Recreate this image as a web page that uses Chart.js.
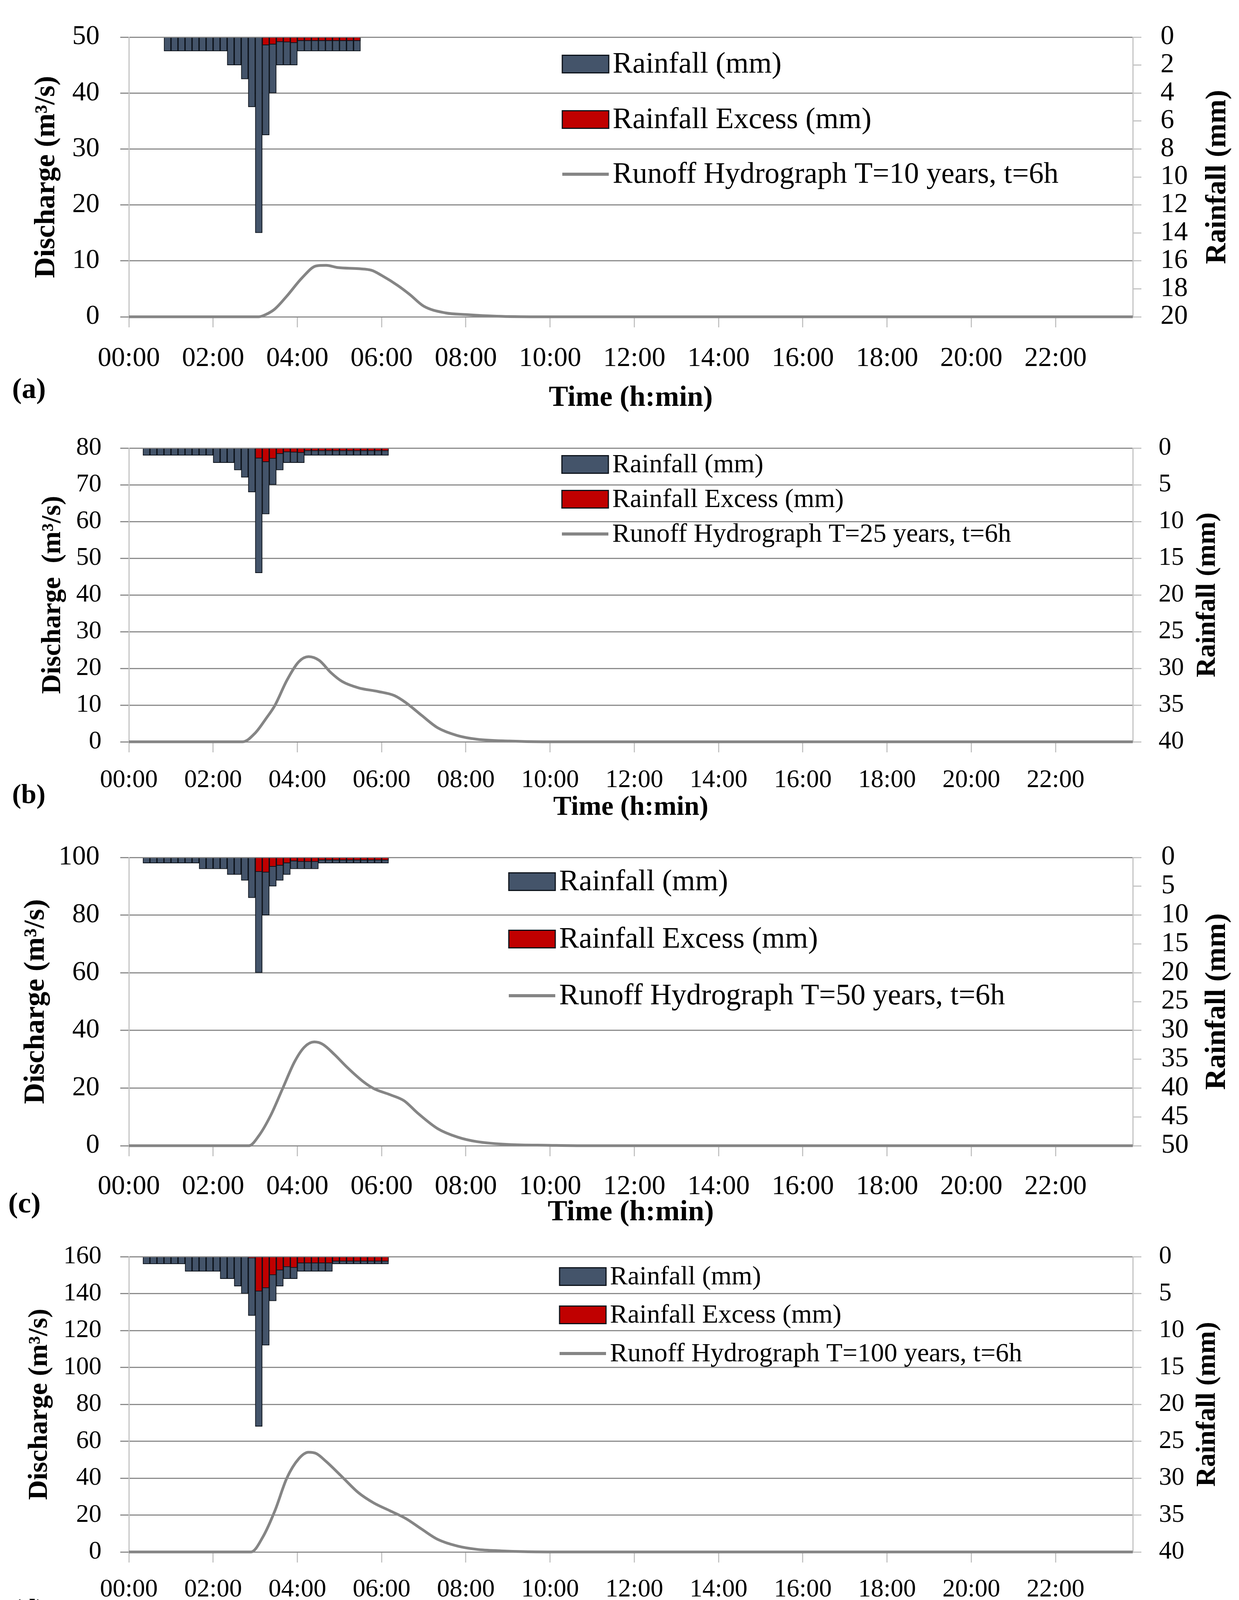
<!DOCTYPE html>
<html>
<head>
<meta charset="utf-8">
<script src="https://cdn.jsdelivr.net/npm/chart.js@4.4.1/dist/chart.umd.min.js"></script>
<style>
    html, body { margin: 0; padding: 0; background: #fff; }
    #page { position: relative; width: 3173px; height: 4213px; background: #fff; }
    #page canvas { position: absolute; left: 0; }
</style>
</head>
<body>
<div id="page">
    <canvas id="chartA" width="3173" height="1068" style="top:0px"></canvas>
    <canvas id="chartB" width="3173" height="1054" style="top:1060px"></canvas>
    <canvas id="chartC" width="3173" height="1054" style="top:2100px"></canvas>
    <canvas id="chartD" width="3173" height="1054" style="top:3130px"></canvas>
</div>
<script>
// --- data ---
const X_TICK_LABELS = [
    "00:00", "02:00", "04:00", "06:00", "08:00", "10:00",
    "12:00", "14:00", "16:00", "18:00", "20:00", "22:00",
];
const X_END = "23:50";

// 10-min rainfall blocks, labelled by end of interval
const RAIN_END_A = [
    "01:00", "01:10", "01:20", "01:30", "01:40", "01:50",
    "02:00", "02:10", "02:20", "02:30", "02:40", "02:50",
    "03:00", "03:10", "03:20", "03:30", "03:40", "03:50",
    "04:00", "04:10", "04:20", "04:30", "04:40", "04:50",
    "05:00", "05:10", "05:20", "05:30",
];
const RAIN_END_BCD = [
    "00:30", "00:40", "00:50",
    "01:00", "01:10", "01:20", "01:30", "01:40", "01:50",
    "02:00", "02:10", "02:20", "02:30", "02:40", "02:50",
    "03:00", "03:10", "03:20", "03:30", "03:40", "03:50",
    "04:00", "04:10", "04:20", "04:30", "04:40", "04:50",
    "05:00", "05:10", "05:20", "05:30", "05:40", "05:50",
    "06:00", "06:10",
];

// (a) T=10 years
const RAIN_A = [1, 1, 1, 1, 1, 1, 1, 1, 1, 2, 2, 3, 5, 14, 7, 4, 2, 2, 2, 1, 1, 1, 1, 1, 1, 1, 1, 1];
const EXCESS_A = [0, 0, 0, 0, 0, 0, 0, 0, 0, 0, 0, 0, 0, 0, 0.58, 0.52, 0.35, 0.37, 0.42, 0.27, 0.27, 0.27, 0.27, 0.27, 0.27, 0.27, 0.27, 0.27];
const FLOW_TIME_A = ["00:00", "03:05", "03:15", "03:28", "03:45", "04:07", "04:27", "04:41", "04:58", "05:27", "05:46", "06:00", "06:23", "06:40", "07:00", "07:31", "08:00", "08:44", "09:40", "23:50"];
const FLOW_A = [0, 0, 0.4, 1.4, 3.7, 7.0, 9.1, 9.2, 8.8, 8.6, 8.3, 7.4, 5.6, 4.0, 1.9, 0.7, 0.4, 0.1, 0, 0];

// (b) T=25 years
const RAIN_B = [1, 1, 1, 1, 1, 1, 1, 1, 1, 1, 2, 2, 2, 3, 4, 6, 17, 9, 5, 3, 2, 2, 2, 1, 1, 1, 1, 1, 1, 1, 1, 1, 1, 1, 1];
const EXCESS_B = [0, 0, 0, 0, 0, 0, 0, 0, 0, 0, 0, 0, 0, 0, 0, 0, 1.4, 1.9, 1.45, 0.8, 0.55, 0.6, 0.65, 0.4, 0.4, 0.4, 0.4, 0.4, 0.4, 0.4, 0.4, 0.4, 0.4, 0.4, 0.4];
const FLOW_TIME_B = ["00:00", "02:42", "03:00", "03:16", "03:28", "03:45", "04:02", "04:16", "04:31", "04:48", "05:04", "05:27", "05:55", "06:18", "06:35", "06:57", "07:20", "07:48", "08:16", "09:02", "09:50", "23:50"];
const FLOW_B = [0, 0, 2.4, 6.5, 9.9, 16.7, 21.8, 23.2, 22.2, 18.8, 16.4, 14.7, 13.7, 12.6, 10.6, 7.2, 3.8, 1.7, 0.7, 0.2, 0, 0];

// (c) T=50 years
const RAIN_C = [1, 1, 1, 1, 1, 1, 1, 1, 2, 2, 2, 2, 3, 3, 4, 7, 20, 10, 5, 4, 3, 2, 2, 2, 2, 1, 1, 1, 1, 1, 1, 1, 1, 1, 1];
const EXCESS_C = [0, 0, 0, 0, 0, 0, 0, 0, 0, 0, 0, 0, 0, 0, 0, 0, 2.5, 2.6, 1.6, 1.4, 1.0, 0.65, 0.75, 0.75, 0.75, 0.5, 0.5, 0.5, 0.5, 0.5, 0.5, 0.5, 0.5, 0.5, 0.5];
const FLOW_TIME_C = ["00:00", "02:51", "03:05", "03:22", "03:39", "03:56", "04:10", "04:24", "04:36", "04:53", "05:10", "05:33", "05:49", "06:12", "06:32", "06:51", "07:20", "07:48", "08:16", "09:02", "09:58", "10:50", "23:50"];
const FLOW_C = [0, 0, 3.4, 10.5, 19.8, 29.1, 34.2, 36.0, 35.2, 31.6, 27.4, 22.4, 19.8, 17.7, 15.6, 11.4, 5.9, 3.0, 1.4, 0.4, 0.15, 0, 0];

// (d) T=100 years
const RAIN_D = [1, 1, 1, 1, 1, 1, 2, 2, 2, 2, 2, 3, 3, 4, 5, 8, 23, 12, 6, 4, 3, 3, 2, 2, 2, 2, 2, 1, 1, 1, 1, 1, 1, 1, 1];
const EXCESS_D = [0, 0, 0, 0, 0, 0, 0, 0, 0, 0, 0, 0, 0, 0, 0, 0.2, 4.7, 4.25, 2.5, 1.85, 1.4, 1.5, 0.9, 0.9, 0.9, 0.9, 0.9, 0.65, 0.65, 0.65, 0.65, 0.65, 0.65, 0.65, 0.65];
const FLOW_TIME_D = ["00:00", "02:54", "03:11", "03:28", "03:45", "04:02", "04:16", "04:27", "04:41", "05:04", "05:27", "05:49", "06:12", "06:35", "06:57", "07:20", "07:48", "08:16", "08:50", "09:24", "10:10", "23:50"];
const FLOW_D = [0, 0, 8.2, 22.3, 40, 50.5, 54, 53.3, 49, 40.6, 32.1, 26.5, 22.3, 18, 12.4, 6.8, 3.2, 1.4, 0.6, 0.15, 0, 0];

// --- styling ---
const SERIF = "Liberation Serif";
const RAIN_FILL = "#44546a";
const EXCESS_FILL = "#c00000";
const BAR_EDGE = "#0c121a";
const FLOW_LINE = "#858585";
const GRID_GREY = "#8c8c8c";
const AXIS_GREY = "#c4c4c4";
const PAGE_W = 3173;
const PLOT_LEFT = 330;
const PLOT_RIGHT = 2901;
const LEG_BOX_W = 119;
const LEG_BOX_H = 45;

const toMin = (s) => {
    const [h, m] = s.split(":").map(Number);
    return h * 60 + m;
};
const X_TICK_VALUES = X_TICK_LABELS.map(toMin);

// panel layout (page pixels)
const PANELS = [
    {
        id: "chartA", tag: "(a)", top: 0, height: 1068, plotTop: 82, plotBottom: 811,
        qMax: 50, qStep: 10, rMax: 20, rStep: 2, period: "T=10 years",
        tick: 70, title: 74, legendFont: 76, yTitle: "Discharge (m³/s)",
        yTitleX: 120, rTitleX: 3119, lPad: 53, rPad: 49, xPad: 39,
        legX: 1440, legRows: [164, 306, 446], tagX: 31, tagY: 1000,
        rainEnd: RAIN_END_A, rain: RAIN_A, excess: EXCESS_A, flowTime: FLOW_TIME_A, flow: FLOW_A,
    },
    {
        id: "chartB", tag: "(b)", top: 1060, height: 1054, plotTop: 1122, plotBottom: 1899,
        qMax: 80, qStep: 10, rMax: 40, rStep: 5, period: "T=25 years",
        tick: 65, title: 70, legendFont: 68, yTitle: "Discharge  (m³/s)",
        yTitleX: 136, rTitleX: 3093, lPad: 48, rPad: 44, xPad: 33,
        legX: 1439, legRows: [1189, 1278, 1367], tagX: 31, tagY: 2038,
        rainEnd: RAIN_END_BCD, rain: RAIN_B, excess: EXCESS_B, flowTime: FLOW_TIME_B, flow: FLOW_B,
    },
    {
        id: "chartC", tag: "(c)", top: 2100, height: 1054, plotTop: 2171, plotBottom: 2933,
        qMax: 100, qStep: 20, rMax: 50, rStep: 5, period: "T=50 years",
        tick: 70, title: 75, legendFont: 76, yTitle: "Discharge (m³/s)",
        yTitleX: 93, rTitleX: 3118, lPad: 53, rPad: 51, xPad: 37,
        legX: 1303, legRows: [2257, 2404, 2549], tagX: 21, tagY: 3085,
        rainEnd: RAIN_END_BCD, rain: RAIN_C, excess: EXCESS_C, flowTime: FLOW_TIME_C, flow: FLOW_C,
    },
    {
        id: "chartD", tag: "(d)", top: 3130, height: 1054, plotTop: 3196, plotBottom: 3973,
        qMax: 160, qStep: 20, rMax: 40, rStep: 5, period: "T=100 years",
        tick: 65, title: 70, legendFont: 68, yTitle: "Discharge (m³/s)",
        yTitleX: 102, rTitleX: 3093, lPad: 48, rPad: 45, xPad: 31,
        legX: 1433, legRows: [3268, 3366, 3465], tagX: 31, tagY: 4124,
        rainEnd: RAIN_END_BCD, rain: RAIN_D, excess: EXCESS_D, flowTime: FLOW_TIME_D, flow: FLOW_D,
    },
];

// legend, right-hand title (reads bottom to top) and panel letter
function makeOverlay(p) {
    return {
        id: "overlay",
        afterDraw(chart) {
            const ctx = chart.ctx;
            const area = chart.chartArea;
            const rel = (y) => y - p.top;
            ctx.save();
            ctx.font = `${p.legendFont}px "${SERIF}"`;
            ctx.textAlign = "left";
            ctx.textBaseline = "middle";
            chart.data.datasets.forEach((ds, i) => {
                const cy = rel(p.legRows[i]);
                if (ds.type === "line") {
                    ctx.strokeStyle = ds.borderColor;
                    ctx.lineWidth = 8;
                    ctx.beginPath();
                    ctx.moveTo(p.legX, cy);
                    ctx.lineTo(p.legX + LEG_BOX_W, cy);
                    ctx.stroke();
                } else {
                    ctx.fillStyle = ds.backgroundColor;
                    ctx.fillRect(p.legX, cy - LEG_BOX_H / 2, LEG_BOX_W, LEG_BOX_H);
                    ctx.strokeStyle = BAR_EDGE;
                    ctx.lineWidth = 3;
                    ctx.strokeRect(p.legX, cy - LEG_BOX_H / 2, LEG_BOX_W, LEG_BOX_H);
                }
                ctx.fillStyle = "#000";
                ctx.fillText(ds.label, p.legX + LEG_BOX_W + 10, cy + 2);
            });

            ctx.font = `bold ${p.title}px "${SERIF}"`;
            ctx.textAlign = "left";
            ctx.fillText(p.tag, p.tagX, rel(p.tagY));

            ctx.textAlign = "center";
            ctx.translate(p.rTitleX, (area.top + area.bottom) / 2);
            ctx.rotate(-Math.PI / 2);
            ctx.fillText("Rainfall (mm)", 0, 0);
            ctx.restore();
        },
    };
}

function buildChart(p) {
    const rel = (y) => y - p.top;
    const xAxisH = p.height - rel(p.plotBottom);
    const tickFont = { family: SERIF, size: p.tick };
    const titleFont = { family: SERIF, size: p.title, weight: "bold" };
    const lh = p.title * 1.2;

    const rain = p.rainEnd.map((t, i) => ({ x: toMin(t) - 5, y: p.rain[i] }));
    const excess = p.rainEnd.map((t, i) => ({ x: toMin(t) - 5, y: p.excess[i] }));
    const flow = p.flowTime.map((t, i) => ({ x: toMin(t), y: p.flow[i] }));

    const barStyle = {
        type: "bar",
        yAxisID: "y2",
        borderColor: BAR_EDGE,
        borderWidth: 2,
        grouped: false,
        barPercentage: 1,
        categoryPercentage: 1,
    };

    return new Chart(document.getElementById(p.id), {
        type: "bar",
        data: {
            datasets: [
                { ...barStyle, label: "Rainfall (mm)", data: rain, backgroundColor: RAIN_FILL, order: 3 },
                { ...barStyle, label: "Rainfall Excess (mm)", data: excess, backgroundColor: EXCESS_FILL, order: 2 },
                {
                    type: "line",
                    label: "Runoff Hydrograph " + p.period + ", t=6h",
                    data: flow,
                    yAxisID: "y",
                    borderColor: FLOW_LINE,
                    borderWidth: 7,
                    pointRadius: 0,
                    cubicInterpolationMode: "monotone",
                    clip: 10,
                    order: 1,
                },
            ],
        },
        options: {
            responsive: false,
            animation: false,
            devicePixelRatio: 1,
            layout: { padding: { top: rel(p.plotTop), left: 0, right: 0, bottom: 0 } },
            plugins: {
                legend: { display: false },
                tooltip: { enabled: false },
            },
            scales: {
                x: {
                    type: "linear",
                    position: "bottom",
                    offset: false,
                    min: 0,
                    max: toMin(X_END),
                    afterBuildTicks: (s) => {
                        s.ticks = X_TICK_VALUES.map((v) => ({ value: v }));
                    },
                    ticks: {
                        autoSkip: false,
                        maxRotation: 0,
                        padding: p.xPad,
                        font: tickFont,
                        color: "#000",
                        callback: (v, i) => X_TICK_LABELS[i],
                    },
                    grid: { offset: false, drawOnChartArea: false, drawTicks: true, tickLength: 27, color: AXIS_GREY, lineWidth: 3 },
                    border: { display: true, color: GRID_GREY, width: 3 },
                    title: {
                        display: true,
                        text: "Time (h:min)",
                        font: titleFont,
                        color: "#000",
                        padding: { top: 0, bottom: 4 },
                    },
                    afterFit: (s) => { s.height = xAxisH; },
                },
                y: {
                    position: "left",
                    min: 0,
                    max: p.qMax,
                    ticks: { stepSize: p.qStep, autoSkip: false, padding: p.lPad, font: tickFont, color: "#000" },
                    grid: { color: GRID_GREY, lineWidth: 3, tickLength: 22 },
                    border: { display: true, color: AXIS_GREY, width: 3 },
                    title: {
                        display: true,
                        text: p.yTitle,
                        font: titleFont,
                        color: "#000",
                        padding: { top: p.yTitleX - lh / 2, bottom: 0 },
                    },
                    afterFit: (s) => { s.width = PLOT_LEFT; },
                },
                y2: {
                    position: "right",
                    min: 0,
                    max: p.rMax,
                    reverse: true,
                    ticks: { stepSize: p.rStep, autoSkip: false, padding: p.rPad, font: tickFont, color: "#000" },
                    grid: { drawOnChartArea: false, drawTicks: true, tickLength: 22, color: AXIS_GREY, lineWidth: 3 },
                    border: { display: true, color: AXIS_GREY, width: 3 },
                    afterFit: (s) => { s.width = PAGE_W - PLOT_RIGHT; },
                },
            },
        },
        plugins: [makeOverlay(p)],
    });
}

PANELS.forEach(buildChart);
</script>
</body>
</html>
